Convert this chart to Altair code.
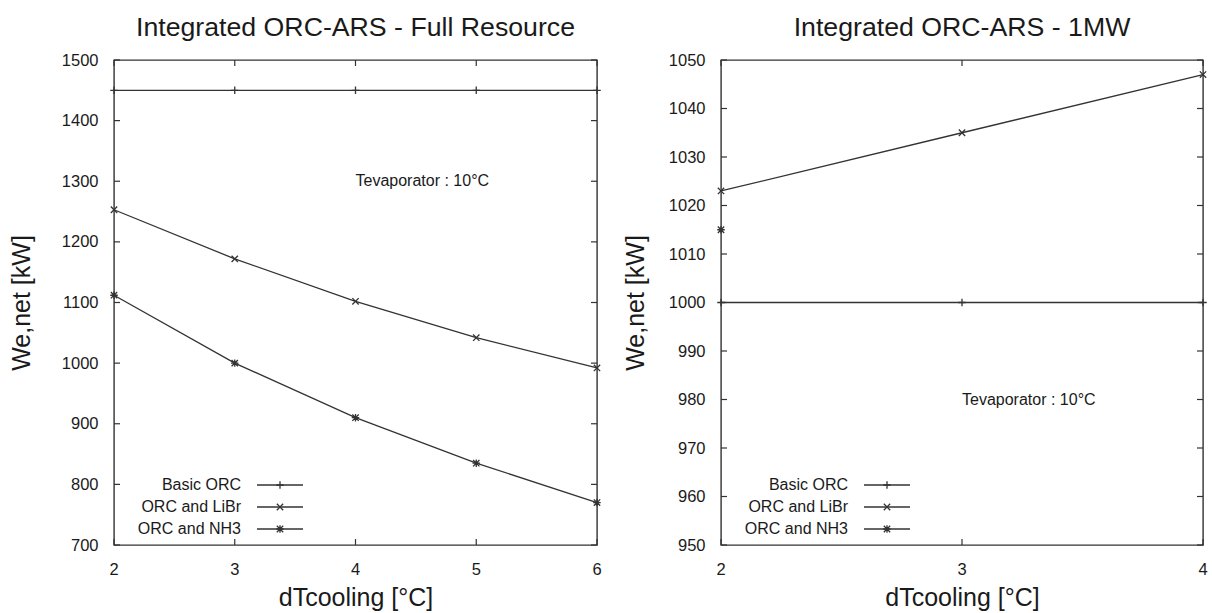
import altair as alt
import pandas as pd

FONT = "Liberation Sans"
INK = "#333333"
TXT = "#1a1a1a"

# ---- data -------------------------------------------------------------
series_names = ["Basic ORC", "ORC and LiBr", "ORC and NH3"]

# full resource case
x_full = [2, 3, 4, 5, 6]
basic_full = [1450, 1450, 1450, 1450, 1450]
libr_full = [1253, 1172, 1102, 1042, 992]
nh3_full = [1112, 1000, 910, 835, 770]

# 1 MW case
x_1mw = [2, 3, 4]
basic_1mw = [1000, 1000, 1000]
libr_1mw = [1023, 1035, 1047]
x_nh3_1mw = [2]
nh3_1mw = [1015]

# axis ticks
xticks_full = [2, 3, 4, 5, 6]
yticks_full = [700, 800, 900, 1000, 1100, 1200, 1300, 1400, 1500]
xticks_1mw = [2, 3, 4]
yticks_1mw = [950, 960, 970, 980, 990, 1000, 1010, 1020, 1030, 1040, 1050]

note_text = "Tevaporator : 10°C"

# ---- marker glyphs (gnuplot-like point types) --------------------------
PLUS = "M-1,0L1,0M0,-1L0,1"
CROSS = "M-0.85,-0.85L0.85,0.85M-0.85,0.85L0.85,-0.85"
STAR = PLUS + CROSS
shape_scale = alt.Scale(domain=series_names, range=[PLUS, CROSS, STAR])


def long_table(pairs):
    rows = []
    for name, xs, ys in pairs:
        for xv, yv in zip(xs, ys):
            rows.append({"series": name, "x": xv, "y": yv})
    return pd.DataFrame(rows)


df_full = long_table([
    ("Basic ORC", x_full, basic_full),
    ("ORC and LiBr", x_full, libr_full),
    ("ORC and NH3", x_full, nh3_full),
])
df_1mw = long_table([
    ("Basic ORC", x_1mw, basic_1mw),
    ("ORC and LiBr", x_1mw, libr_1mw),
    ("ORC and NH3", x_nh3_1mw, nh3_1mw),
])


def panel(df, xdom, ydom, xticks, yticks, title, note_xy, w, h, ytitle_pad):
    # x tick labels are drawn as a text layer below the frame
    X = alt.X(
        "x:Q",
        scale=alt.Scale(domain=xdom, nice=False, zero=False),
        axis=alt.Axis(values=xticks, title="dTcooling [°C]", ticks=False, domain=False,
                      grid=False, labels=False, titleFontSize=25, titlePadding=40,
                      titleFontWeight="normal", titleColor=TXT, titleFont=FONT),
    )
    Y = alt.Y(
        "y:Q",
        scale=alt.Scale(domain=ydom, nice=False, zero=False),
        axis=alt.Axis(values=yticks, title="We,net [kW]", ticks=False, domain=False,
                      grid=False, labelFlush=False, labelOverlap=False, format="d",
                      labelFontSize=16.5, labelPadding=16, titleFontSize=25,
                      titlePadding=ytitle_pad, titleFontWeight="normal", labelColor=TXT,
                      titleColor=TXT, labelFont=FONT, titleFont=FONT),
    )

    lines = alt.Chart(df).mark_line(color=INK, strokeWidth=1.3).encode(
        x=X, y=Y, detail="series:N")
    points = alt.Chart(df).mark_point(
        filled=False, color=INK, strokeWidth=1.3, size=56, opacity=1
    ).encode(x=X, y=Y, shape=alt.Shape("series:N", scale=shape_scale, legend=None))

    ytab = pd.DataFrame({"y": yticks})
    xtab = pd.DataFrame({"x": xticks})
    tick_l = alt.Chart(ytab).mark_rule(color=INK, strokeWidth=1.2).encode(
        y=Y, x=alt.value(0), x2=alt.value(6))
    tick_r = alt.Chart(ytab).mark_rule(color=INK, strokeWidth=1.2).encode(
        y=Y, x=alt.value(w - 6), x2=alt.value(w))
    tick_b = alt.Chart(xtab).mark_rule(color=INK, strokeWidth=1.2).encode(
        x=X, y=alt.value(h - 6), y2=alt.value(h))
    tick_t = alt.Chart(xtab).mark_rule(color=INK, strokeWidth=1.2).encode(
        x=X, y=alt.value(0), y2=alt.value(6))
    xlabels = alt.Chart(xtab).mark_text(
        baseline="top", align="center", fontSize=16.5, font=FONT, color=TXT
    ).encode(x=X, y=alt.value(h + 17), text=alt.Text("x:Q", format="d"))

    note = alt.Chart(pd.DataFrame({"x": [note_xy[0]], "y": [note_xy[1]],
                                   "label": [note_text]})).mark_text(
        align="left", baseline="middle", fontSize=16, font=FONT, color=TXT
    ).encode(x=X, y=Y, text="label:N")

    # key drawn inside the plot, lower left
    key = []
    for i, name in enumerate(series_names):
        row_y = 425 + 22 * i
        one = alt.Chart(pd.DataFrame({"series": [name]}))
        key.append(one.mark_text(align="right", baseline="middle", fontSize=16,
                                 font=FONT, color=TXT).encode(
            x=alt.value(127), y=alt.value(row_y), text="series:N"))
        key.append(one.mark_rule(color=INK, strokeWidth=1.3).encode(
            x=alt.value(143), x2=alt.value(189), y=alt.value(row_y)))
        key.append(one.mark_point(filled=False, color=INK, strokeWidth=1.3,
                                  size=56, opacity=1).encode(
            x=alt.value(166), y=alt.value(row_y),
            shape=alt.Shape("series:N", scale=shape_scale, legend=None)))

    return alt.layer(lines, points, tick_l, tick_r, tick_b, tick_t, xlabels, note,
                     *key).properties(
        width=w, height=h,
        title=alt.TitleParams(title, fontSize=26.7, font=FONT, fontWeight="normal",
                              color=TXT, anchor="middle", frame="group", offset=10),
    )


left = panel(df_full, [2, 6], [700, 1500], xticks_full, yticks_full,
             "Integrated ORC-ARS - Full Resource", (4, 1300), 483, 485, 27)
right = panel(df_1mw, [2, 4], [950, 1050], xticks_1mw, yticks_1mw,
              "Integrated ORC-ARS - 1MW", (3, 980), 482, 485, 20)

chart = alt.hconcat(left, right, spacing=17).properties(
    padding={"left": 8, "top": 14, "right": 0, "bottom": 0},
    background="white",
).configure_view(stroke=INK, strokeWidth=1.4)

chart.save("out.html", embed_options={"renderer": "svg", "actions": False})
